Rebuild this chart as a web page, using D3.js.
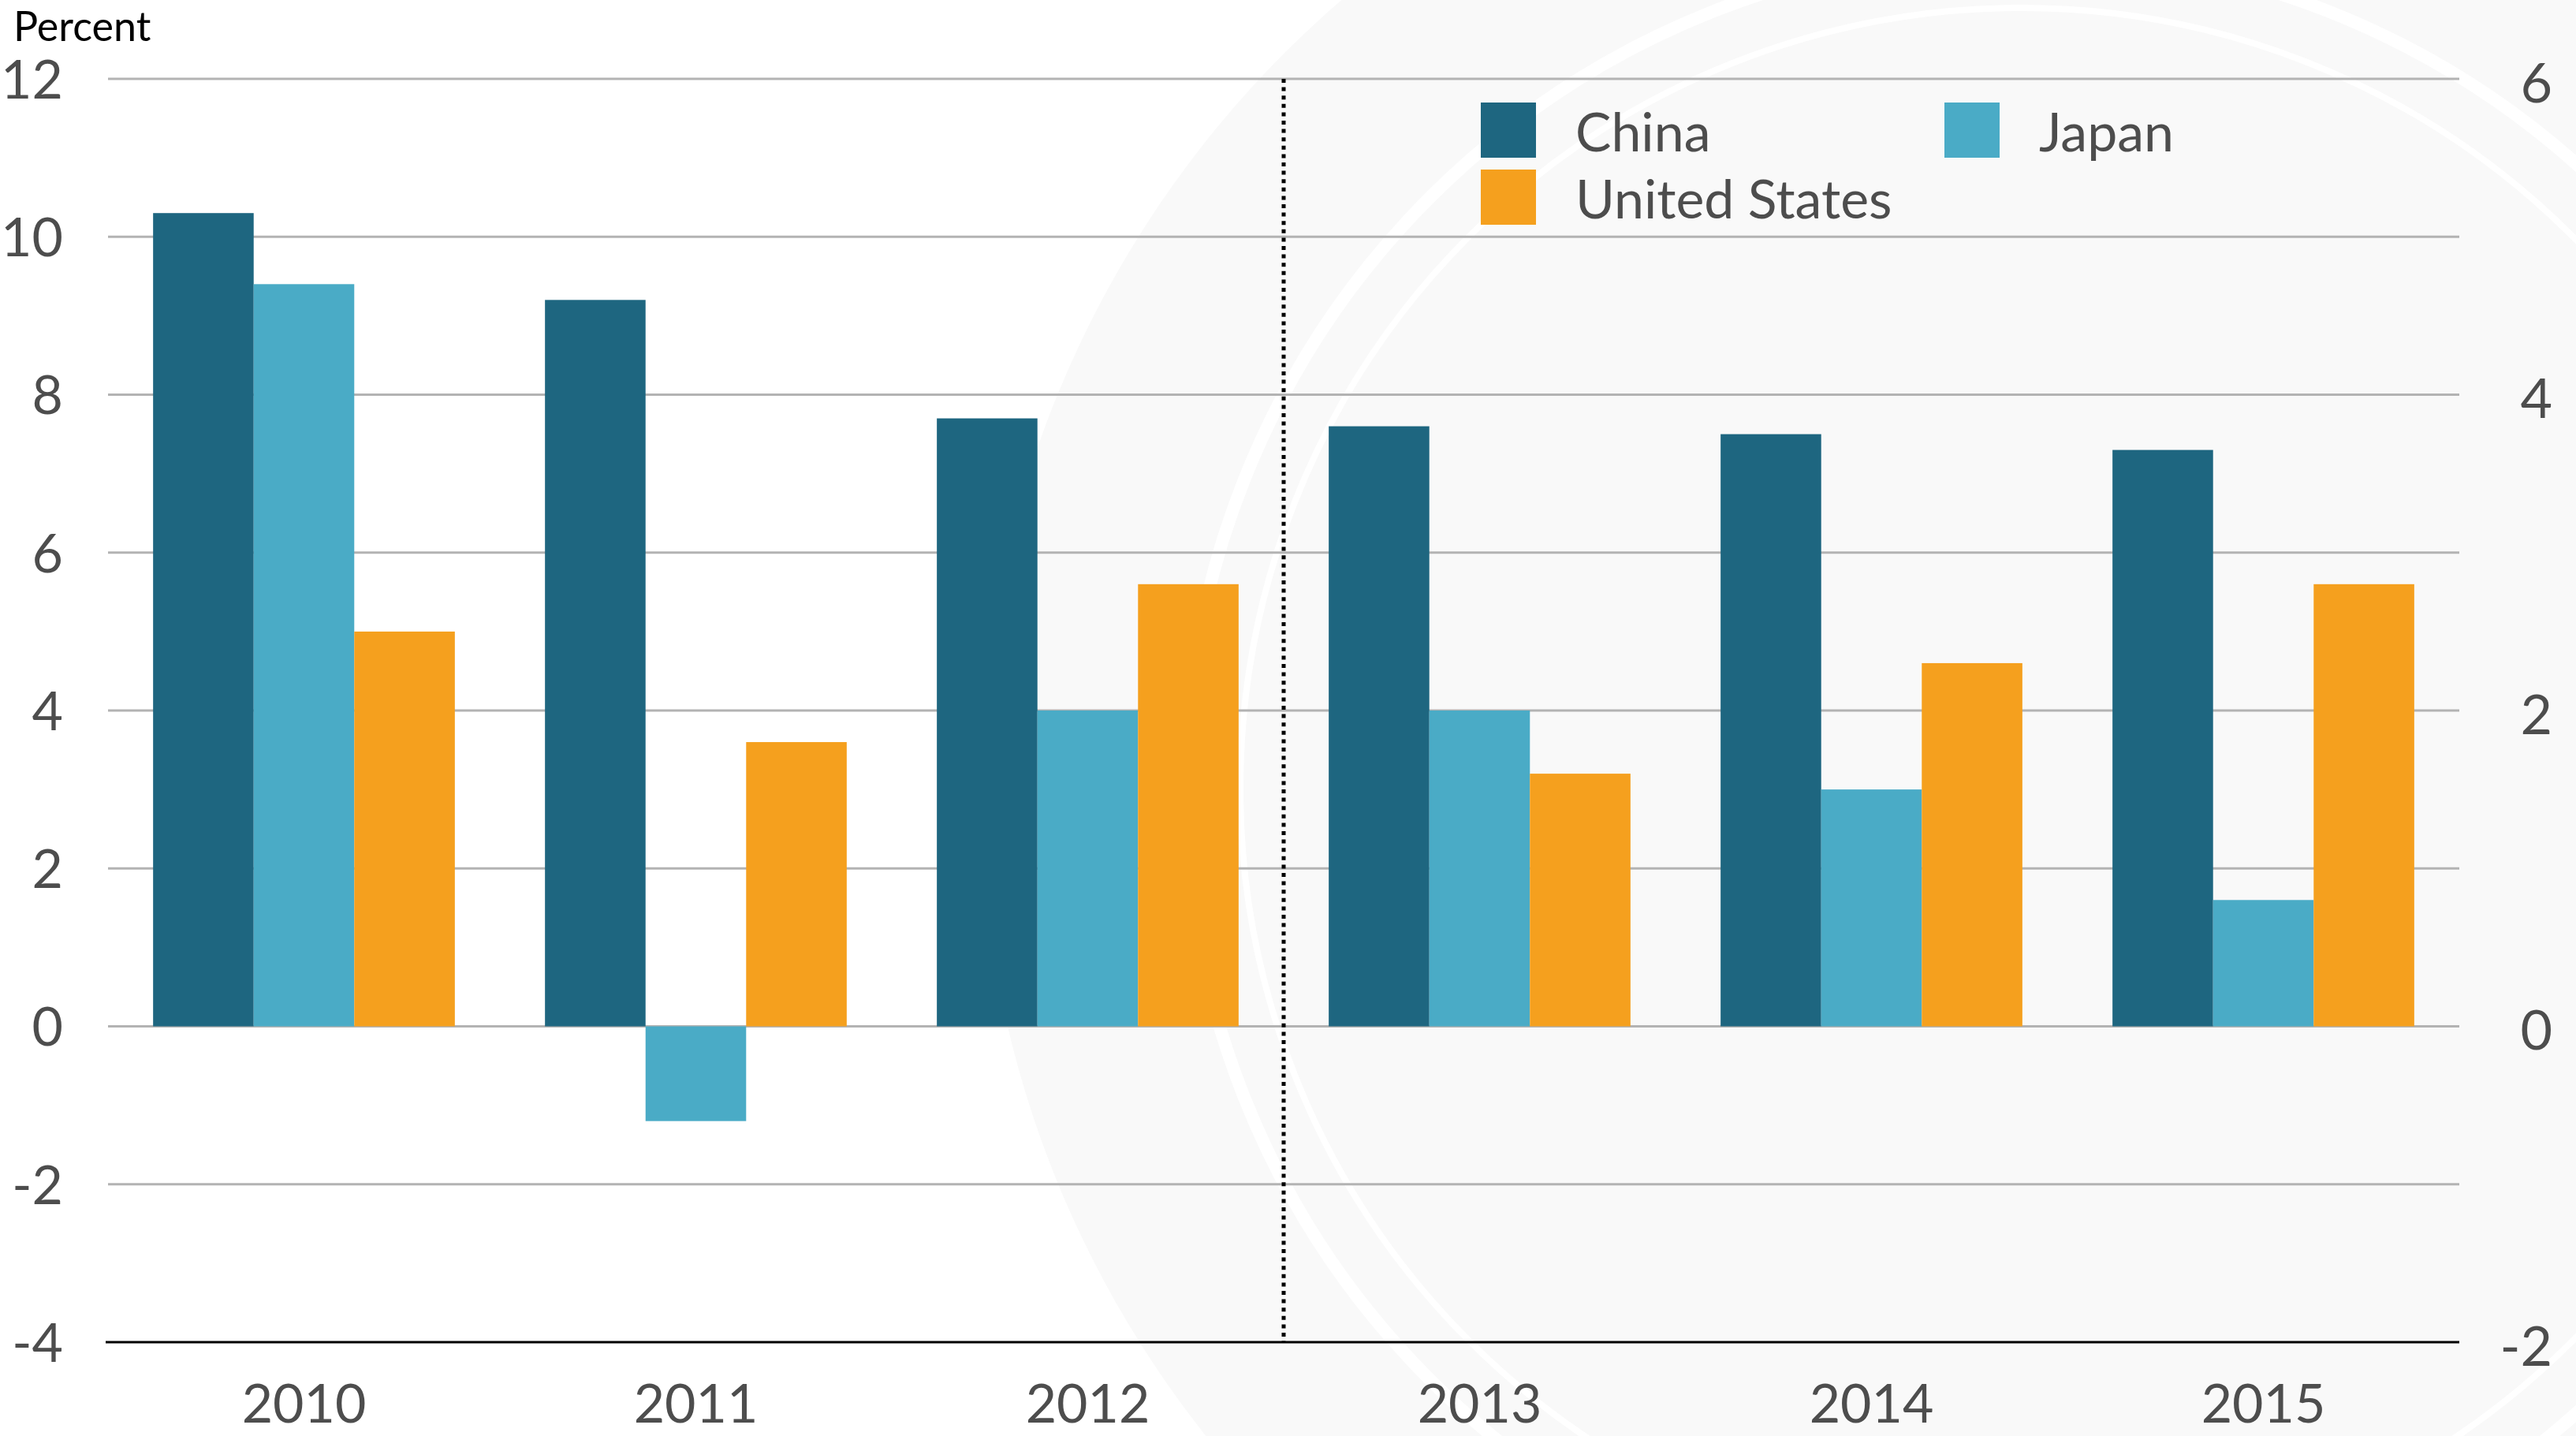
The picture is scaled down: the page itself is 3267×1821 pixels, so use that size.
<!DOCTYPE html>
<html>
<head>
<meta charset="utf-8">
<script src="https://cdn.jsdelivr.net/npm/d3@7"></script>
<style>
  body { margin: 0; background: #fff; }
  svg { display: block; font-family: Lato, "Open Sans", sans-serif; }
</style>
</head>
<body>
<div id="canvas"></div>
<script>
const w = 3267, h = 1821;

// data (China on left axis, Japan / US on right axis)
const years = ["2010", "2011", "2012", "2013", "2014", "2015"];
const series = ["China", "Japan", "United States"];
const china = [10.3, 9.2, 7.7, 7.6, 7.5, 7.3];
const japan = [4.7, -0.6, 2.0, 2.0, 1.5, 0.8];
const usa = [2.5, 1.8, 2.8, 1.6, 2.3, 2.8];
const leftTicks = [-4, -2, 0, 2, 4, 6, 8, 10, 12];
const rightTicks = [-2, 0, 2, 4, 6];
const colors = ["#1e6680", "#4aabc6", "#f5a01e"];

const margin = {left: 137, right: 148, top: 100, bottom: 119};

let svg = d3.select("#canvas")
            .append("svg")
                .attr("width", w)
                .attr("height", h)
                .attr("viewBox", [0, 0, w, h]);

// faint seal in background
let seal = svg.append("g").attr("transform", "translate(2563,1000)");
seal.append("circle").attr("r", 1320).attr("fill", "#f9f9f9");
seal.append("circle").attr("r", 1060).attr("fill", "none").attr("stroke", "#fff").attr("stroke-width", 16);
seal.append("circle").attr("r", 990).attr("fill", "none").attr("stroke", "#fff").attr("stroke-width", 8);

let x0 = d3.scaleBand()
    .domain(years)
    .range([margin.left, w - margin.right])
    .paddingInner(0.23)
    .paddingOuter(0.115);

let x1 = d3.scaleBand()
    .domain(series)
    .range([0, x0.bandwidth()]);

let yL = d3.scaleLinear().domain([-4, 12]).range([h - margin.bottom, margin.top]);
let yR = d3.scaleLinear().domain([-2, 6]).range([h - margin.bottom, margin.top]);

// gridlines
svg.append("g")
    .selectAll("line")
    .data(leftTicks.slice(1))
    .enter().append("line")
        .attr("x1", margin.left)
        .attr("x2", w - margin.right)
        .attr("y1", d => yL(d))
        .attr("y2", d => yL(d))
        .attr("stroke", "#b3b3b3")
        .attr("stroke-width", 3);

// bars
let rows = years.map((yr, i) => ({year: yr, vals: [
    {key: "China", v: china[i], y: yL},
    {key: "Japan", v: japan[i], y: yR},
    {key: "United States", v: usa[i], y: yR}
]}));

svg.append("g")
    .selectAll("g")
    .data(rows)
    .enter().append("g")
        .attr("transform", d => "translate(" + x0(d.year) + ",0)")
    .selectAll("rect")
    .data(d => d.vals)
    .enter().append("rect")
        .attr("x", d => x1(d.key))
        .attr("width", x1.bandwidth())
        .attr("y", d => Math.min(d.y(d.v), d.y(0)))
        .attr("height", d => Math.abs(d.y(d.v) - d.y(0)))
        .attr("fill", (d, i) => colors[i]);

// bottom axis line
svg.append("line")
    .attr("x1", margin.left - 3)
    .attr("x2", w - margin.right)
    .attr("y1", yL(-4))
    .attr("y2", yL(-4))
    .attr("stroke", "#000")
    .attr("stroke-width", 3);

// dotted divider between 2012 and 2013
let divX = (x0("2012") + x0.bandwidth() + x0("2013")) / 2;
svg.append("line")
    .attr("x1", divX).attr("x2", divX)
    .attr("y1", yL(12)).attr("y2", yL(-4))
    .attr("stroke", "#000")
    .attr("stroke-width", 5)
    .attr("stroke-dasharray", "5,5.6");

const fmt = d => String(d);

// left axis labels
let yAxisL = d3.axisLeft(yL).tickValues(leftTicks).tickFormat(fmt).tickSize(0).tickPadding(0);
let gL = svg.append("g").attr("transform", "translate(80,0)").call(yAxisL);
gL.select(".domain").remove();
gL.selectAll("text")
    .attr("font-family", "Lato, sans-serif")
    .attr("font-size", 68)
    .attr("fill", "#4d4d4d")
    .attr("dy", "0.36em");

// right axis labels
let yAxisR = d3.axisLeft(yR).tickValues(rightTicks).tickFormat(fmt).tickSize(0).tickPadding(0);
let gR = svg.append("g").attr("transform", "translate(3237,0)").call(yAxisR);
gR.select(".domain").remove();
gR.selectAll("text")
    .attr("font-family", "Lato, sans-serif")
    .attr("font-size", 70)
    .attr("fill", "#4d4d4d")
    .attr("dy", "0.42em");

// year labels
let xAxis = d3.axisBottom(x0).tickSize(0).tickPadding(0);
let gX = svg.append("g").attr("transform", "translate(0," + (h - 17) + ")").call(xAxis);
gX.select(".domain").remove();
gX.selectAll("text")
    .attr("font-family", "Lato, sans-serif")
    .attr("font-size", 68)
    .attr("fill", "#4d4d4d")
    .attr("dy", 0)
    .attr("y", 0);

// unit label
svg.append("text")
    .attr("x", 17)
    .attr("y", 52)
    .attr("font-size", 52)
    .attr("fill", "#000")
    .text("Percent");

// legend
const legendPos = [[1878, 130], [2466, 130], [1878, 215]];
let lg = svg.append("g")
    .selectAll("g")
    .data(series)
    .enter().append("g")
        .attr("transform", (d, i) => "translate(" + legendPos[i][0] + "," + legendPos[i][1] + ")");
lg.append("rect")
    .attr("width", 70)
    .attr("height", 70)
    .attr("fill", (d, i) => colors[i]);
lg.append("text")
    .attr("x", 120)
    .attr("y", 62)
    .attr("font-size", 68)
    .attr("fill", "#4d4d4d")
    .text(d => d);
</script>
</body>
</html>
